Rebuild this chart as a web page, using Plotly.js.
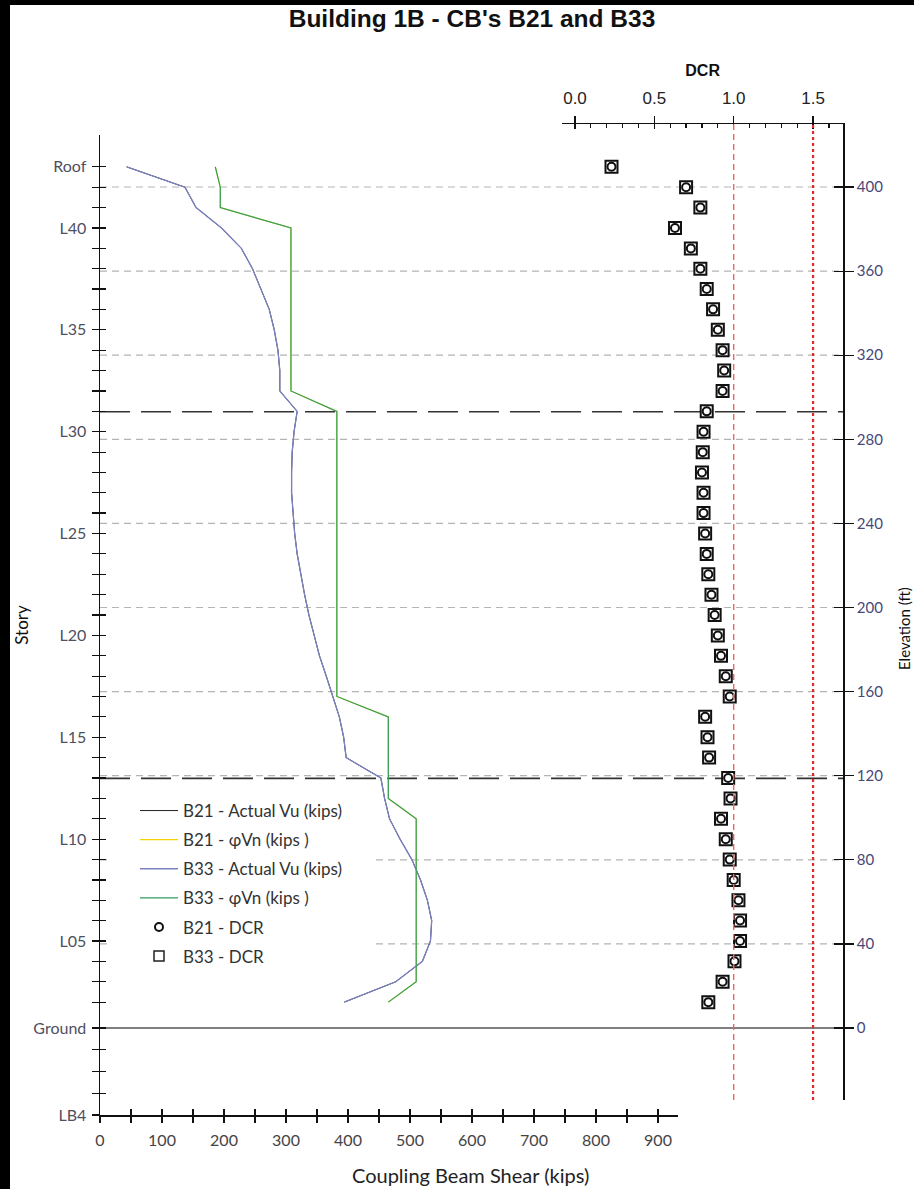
<!DOCTYPE html>
<html><head><meta charset="utf-8">
<script src="https://cdn.plot.ly/plotly-3.0.1.min.js"></script>
<style>html,body{margin:0;padding:0;background:#000;}#chart{width:914px;height:1189px;}</style>
</head><body><div id="chart"></div>
<script>
// ---------------- DATA ----------------
// Elevation (ft) of each coupling-beam level, L02 (bottom) ... Roof (top)
const levelElev = [12.3, 22.0, 31.7, 41.4, 51.1, 60.8, 70.4, 80.1, 89.8, 99.5,
  109.2, 118.9, 128.6, 138.3, 148.0, 157.7, 167.3, 177.0, 186.7, 196.4,
  206.1, 215.8, 225.5, 235.2, 244.9, 254.6, 264.2, 273.9, 283.6, 293.3,
  303.0, 312.7, 322.4, 332.1, 341.8, 351.5, 361.1, 370.8, 380.5, 390.2,
  399.9, 409.6];
// Coupling beam shear (kips)
const b21Vu = [394, 477, 520, 533, 535, 528, 517, 503, 484, 467,
  459, 453, 397, 393, 386, 376, 365, 354, 345, 337,
  330, 324, 318, 314, 311, 309, 309, 310, 313, 318,
  290, 290, 287, 281, 273, 260, 246, 228, 196, 155,
  137, 43];
const b21PhiVn = [465, 510, 510, 510, 510, 510, 510, 510, 510, 510,
  465, 465, 465, 465, 465, 382, 382, 382, 382, 382,
  382, 382, 382, 382, 382, 382, 382, 382, 382, 382,
  308, 308, 308, 308, 308, 308, 308, 308, 308, 194,
  194, 186];
const b33Vu = [394, 477, 520, 533, 535, 528, 517, 503, 484, 467,
  459, 453, 397, 393, 386, 376, 365, 354, 345, 337,
  330, 324, 318, 314, 311, 309, 309, 310, 313, 318,
  290, 290, 287, 281, 273, 260, 246, 228, 196, 155,
  137, 43];
const b33PhiVn = [465, 510, 510, 510, 510, 510, 510, 510, 510, 510,
  465, 465, 465, 465, 465, 382, 382, 382, 382, 382,
  382, 382, 382, 382, 382, 382, 382, 382, 382, 382,
  308, 308, 308, 308, 308, 308, 308, 308, 308, 194,
  194, 186];
// Demand / capacity ratios
const dcrB21 = [0.84, 0.93, 1.005, 1.04, 1.04, 1.03, 1.00, 0.975, 0.95, 0.92,
  0.98, 0.965, 0.845, 0.835, 0.82, 0.975, 0.95, 0.92, 0.90, 0.88,
  0.86, 0.84, 0.83, 0.82, 0.81, 0.81, 0.80, 0.805, 0.81, 0.83,
  0.93, 0.94, 0.93, 0.90, 0.87, 0.83, 0.79, 0.73, 0.63, 0.79,
  0.70, 0.23];
const dcrB33 = [0.84, 0.93, 1.005, 1.04, 1.04, 1.03, 1.00, 0.975, 0.95, 0.92,
  0.98, 0.965, 0.845, 0.835, 0.82, 0.975, 0.95, 0.92, 0.90, 0.88,
  0.86, 0.84, 0.83, 0.82, 0.81, 0.81, 0.80, 0.805, 0.81, 0.83,
  0.93, 0.94, 0.93, 0.90, 0.87, 0.83, 0.79, 0.73, 0.63, 0.79,
  0.70, 0.23];

// Story axis ticks (elevation ft) and labels
const belowGradeElev = [-41.4, -31.1, -20.8, -10.4];
const belowGradeText = ['LB4', '', '', ''];
const groundElev = [0];
const groundText = ['Ground'];
const levelText = ['', '', '', 'L05', '', '', '', '', 'L10', '',
  '', '', '', 'L15', '', '', '', '', 'L20', '',
  '', '', '', 'L25', '', '', '', '', 'L30', '',
  '', '', '', 'L35', '', '', '', '', 'L40', '',
  '', 'Roof'];
const kipTicks = [0, 100, 200, 300, 400, 500, 600, 700, 800, 900];
const kipMinorTicks = [50, 150, 250, 350, 450, 550, 650, 750, 850];
const dcrTicks = [0, 0.5, 1.0, 1.5];
const dcrTickText = ['0.0', '0.5', '1.0', '1.5'];
const dcrMinorTicks = [0.1, 0.2, 0.3, 0.4, 0.6, 0.7, 0.8, 0.9, 1.1, 1.2, 1.3, 1.4, 1.6];
const elevTicks = [0, 40, 80, 120, 160, 200, 240, 280, 320, 360, 400];
const elevGrid = [40, 80, 120, 160, 200, 240, 280, 320, 360, 400];
const transferElev = [293.1, 118.7];
const dcrLimits = [1.0, 1.5];

// ---------------- LAYOUT HELPERS ----------------
const W = 914, H = 1189;
const px = v => v / W;
const py = v => 1 - v / H;
const FT = 2.1025, GROUND_PX = 1028;           // px per ft, pixel row of elevation 0
const elevAt = p => (GROUND_PX - p) / FT;
const KIP = 0.62;                               // px per kip
const DCR0 = 575, DCRS = 158.7;                 // px of DCR 0 and px per unit

const storyTickVals = belowGradeElev.concat(groundElev, levelElev);
const storyTickText = belowGradeText.concat(groundText, levelText);

const labFont = 'Lato, "Noto Sans", sans-serif';
const arial = '"Liberation Sans", Arial, sans-serif';

const traces = [
  {x: b21Vu, y: levelElev, name: 'B21 - Actual Vu (kips)', mode: 'lines', line: {color: '#222222', width: 1}, xaxis: 'x', yaxis: 'y', legendgroup: 'a'},
  {x: b21PhiVn, y: levelElev, name: 'B21 - φVn (kips )', mode: 'lines', line: {color: '#f2d200', width: 1.2}, xaxis: 'x', yaxis: 'y', legendgroup: 'b'},
  {x: b33Vu, y: levelElev, name: 'B33 - Actual Vu (kips)', mode: 'lines', line: {color: '#7c82c0', width: 1.3}, xaxis: 'x', yaxis: 'y', legendgroup: 'c'},
  {x: b33PhiVn, y: levelElev, name: 'B33 - φVn (kips )', mode: 'lines', line: {color: '#2f9e60', width: 1.2}, xaxis: 'x', yaxis: 'y', legendgroup: 'd'},
  {x: dcrB33, y: levelElev, name: 'B33 - DCR', mode: 'markers', showlegend: false, marker: {symbol: 'square', size: 12, color: '#ffffff', line: {color: '#111', width: 2}}, xaxis: 'x2', yaxis: 'y2'},
  {x: dcrB21, y: levelElev, name: 'B21 - DCR', mode: 'markers', marker: {symbol: 'circle-open', size: 8, color: '#111', line: {color: '#111', width: 2}}, xaxis: 'x2', yaxis: 'y2', legendgroup: 'e'},
  {x: [null], y: [null], name: 'B33 - DCR', mode: 'markers', marker: {symbol: 'square-open', size: 10, color: '#222', line: {width: 1.5}}, xaxis: 'x2', yaxis: 'y2', legendgroup: 'f'},
  // carriers for the inside halves of the crossing ticks
  {x: [null], y: [null], xaxis: 'x3', yaxis: 'y', showlegend: false, mode: 'markers', hoverinfo: 'skip'},
  {x: [null], y: [null], xaxis: 'x', yaxis: 'y3', showlegend: false, mode: 'markers', hoverinfo: 'skip'},
  {x: [null], y: [null], xaxis: 'x4', yaxis: 'y2', showlegend: false, mode: 'markers', hoverinfo: 'skip'},
  {x: [null], y: [null], xaxis: 'x2', yaxis: 'y4', showlegend: false, mode: 'markers', hoverinfo: 'skip'}
];

const xRange = [0, (678 - 100) / KIP];
const yRange = [elevAt(1115), elevAt(135)];
const x2Range = [(562 - DCR0) / DCRS, (843.3 - DCR0) / DCRS];
const y2Range = [elevAt(1100), elevAt(124.3)];

const shapes = [];
// white page inside the black frame
shapes.push({type: 'rect', xref: 'paper', yref: 'paper', x0: px(10), x1: 1, y0: 0, y1: py(5), fillcolor: '#ffffff', line: {width: 0}, layer: 'below'});
elevGrid.forEach(e => shapes.push({type: 'line', xref: 'paper', yref: 'y', x0: px(100), x1: px(843.3), y0: e, y1: e, line: {color: '#b4b4b4', width: 1.2, dash: '7px,5px'}, layer: 'below'}));
transferElev.forEach(e => shapes.push({type: 'line', xref: 'paper', yref: 'y', x0: px(100), x1: px(843.3), y0: e, y1: e, line: {color: '#333333', width: 1.7, dash: '30px,11px'}, layer: 'below'}));
groundElev.forEach(e => shapes.push({type: 'line', xref: 'paper', yref: 'y', x0: px(100), x1: px(843.3), y0: e, y1: e, line: {color: '#555555', width: 1.6}, layer: 'below'}));
// legend background panel
shapes.push({type: 'rect', xref: 'paper', yref: 'paper', x0: px(112), x1: px(373), y0: py(975), y1: py(790), fillcolor: '#ffffff', line: {width: 0}, layer: 'below'});
shapes.push({type: 'line', xref: 'x2', yref: 'y2 domain', x0: dcrLimits[0], x1: dcrLimits[0], y0: 0, y1: 1, line: {color: '#f06464', width: 1.4, dash: '6px,4px'}, layer: 'above'});
shapes.push({type: 'line', xref: 'x2', yref: 'y2 domain', x0: dcrLimits[1], x1: dcrLimits[1], y0: 0, y1: 1, line: {color: '#e82626', width: 2.2, dash: '3px,3px'}, layer: 'above'});

const tickCommon = {showgrid: false, zeroline: false, tickcolor: '#111', tickwidth: 1.2};

const layout = {
  width: W, height: H,
  margin: {l: 0, r: 0, t: 0, b: 0, pad: 0},
  paper_bgcolor: '#000000',
  plot_bgcolor: 'rgba(0,0,0,0)',
  showlegend: true,
  hovermode: false,
  title: {text: "Building 1B - CB's B21 and B33", x: 472 / W, xanchor: 'center', y: py(18), yanchor: 'middle',
    font: {family: arial, size: 24.5, weight: 'bold', color: '#111'}},
  legend: {x: px(135), xanchor: 'left', y: py(793), yanchor: 'top', bgcolor: '#ffffff', borderwidth: 0,
    itemwidth: 38,
    font: {family: labFont, size: 17, color: '#333'}, traceorder: 'grouped', tracegroupgap: 4},
  annotations: [
    {text: 'Coupling Beam Shear (kips)', xref: 'paper', yref: 'paper', x: px(470), y: py(1175), xanchor: 'center', yanchor: 'middle',
      showarrow: false, font: {family: labFont, size: 20, color: '#222'}},
    {text: 'Elevation (ft)', xref: 'paper', yref: 'paper', x: px(904), y: py(629), xanchor: 'center', yanchor: 'middle',
      textangle: -90, showarrow: false, font: {family: labFont, size: 15, color: '#111'}}
  ],
  xaxis: Object.assign({}, tickCommon, {domain: [px(100), px(678)], range: xRange, anchor: 'y', side: 'bottom',
    showline: true, linecolor: '#111', linewidth: 1.5, ticks: 'outside', ticklen: 6, ticklabelstandoff: 4,
    tickmode: 'array', tickvals: kipTicks,
    minor: {tickmode: 'array', tickvals: kipMinorTicks, ticks: 'outside', ticklen: 6, tickcolor: '#111', tickwidth: 1.2},
    tickfont: {family: labFont, size: 16, color: '#444'}}),
  xaxis3: Object.assign({}, tickCommon, {overlaying: 'x', anchor: 'y', side: 'bottom', range: xRange,
    showline: false, ticks: 'inside', ticklen: 6, tickmode: 'array', tickvals: kipTicks.concat(kipMinorTicks), showticklabels: false}),
  yaxis: Object.assign({}, tickCommon, {domain: [py(1115), py(135)], range: yRange, anchor: 'x', side: 'left',
    showline: true, linecolor: '#111', linewidth: 1.5, ticks: 'outside', ticklen: 7, ticklabelstandoff: 2,
    tickmode: 'array', tickvals: storyTickVals, ticktext: storyTickText,
    tickfont: {family: labFont, size: 16, color: '#4f4f5f'},
    title: {text: 'Story', font: {family: labFont, size: 17, color: '#111'}, standoff: 0}}),
  yaxis3: Object.assign({}, tickCommon, {overlaying: 'y', anchor: 'x', side: 'left', range: yRange,
    showline: false, ticks: 'inside', ticklen: 6, tickmode: 'array', tickvals: storyTickVals, showticklabels: false}),
  xaxis2: Object.assign({}, tickCommon, {domain: [px(562), px(843.3)], range: x2Range, anchor: 'y2', side: 'top',
    showline: true, linecolor: '#111', linewidth: 1.5, ticks: 'outside', ticklen: 7, ticklabelstandoff: 5,
    tickmode: 'array', tickvals: dcrTicks, ticktext: dcrTickText,
    minor: {tickmode: 'array', tickvals: dcrMinorTicks, ticks: 'inside', ticklen: 4, tickcolor: '#111', tickwidth: 1.2},
    tickfont: {family: arial, size: 17, color: '#222'},
    title: {text: 'DCR', font: {family: arial, size: 16, weight: 'bold', color: '#111'}, standoff: 8}}),
  xaxis4: Object.assign({}, tickCommon, {overlaying: 'x2', anchor: 'y2', side: 'top', range: x2Range,
    showline: false, ticks: 'inside', ticklen: 5, tickmode: 'array', tickvals: dcrTicks, showticklabels: false}),
  yaxis2: Object.assign({}, tickCommon, {domain: [py(1100), py(124.3)], range: y2Range, anchor: 'x2', side: 'right',
    showline: true, linecolor: '#111', linewidth: 1.5, ticks: 'outside', ticklen: 9,
    tickmode: 'array', tickvals: elevTicks,
    tickfont: {family: labFont, size: 15, color: '#484878'}}),
  yaxis4: Object.assign({}, tickCommon, {overlaying: 'y2', anchor: 'x2', side: 'right', range: y2Range,
    showline: false, ticks: 'inside', ticklen: 9, tickmode: 'array', tickvals: elevTicks, showticklabels: false}),
  shapes: shapes
};

Plotly.newPlot('chart', traces, layout, {staticPlot: true, displayModeBar: false});
</script></body></html>
